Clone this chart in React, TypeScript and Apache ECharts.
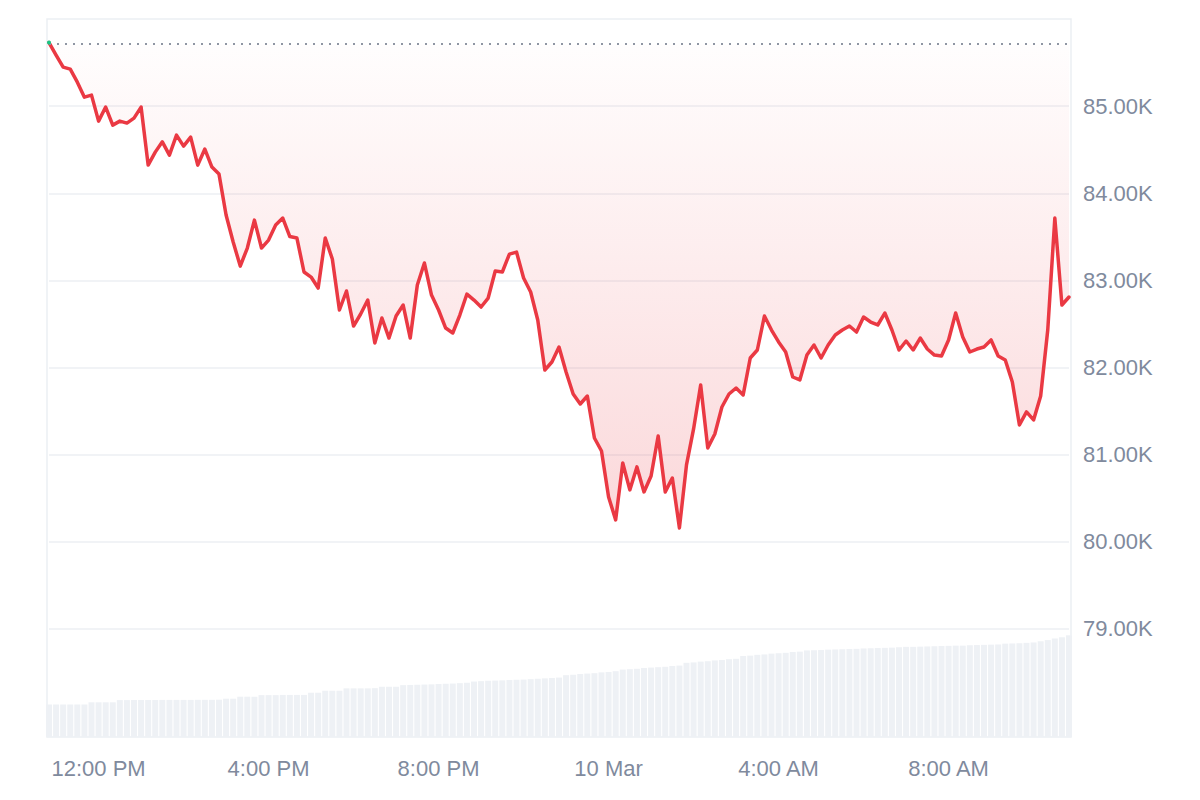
import React, { useEffect, useRef } from 'react';
import * as echarts from 'echarts';

// 24h of 10-minute samples (UTC), 10:50 Mar 9 -> 10:50 Mar 10
const START = Date.UTC(2025, 2, 9, 10, 50);
const STEP = 10 * 60 * 1000;
const OPEN_PRICE = 85711;

const prices = [
  85730, 85585, 85447, 85424, 85275, 85103, 85126, 84828, 84989, 84782,
  84828, 84805, 84862, 84989, 84323, 84472, 84590, 84438, 84667, 84541,
  84644, 84323, 84507, 84300, 84220, 83750, 83440, 83164, 83371, 83692,
  83371, 83463, 83635, 83715, 83503, 83486, 83096, 83038, 82912, 83486,
  83245, 82660, 82878, 82476, 82614, 82774, 82281, 82568, 82338, 82591,
  82717, 82338, 82947, 83199, 82832, 82660, 82453, 82396, 82602, 82843,
  82774, 82694, 82797, 83107, 83096, 83302, 83325, 83027, 82866, 82545,
  81971, 82063, 82235, 81948, 81696, 81581, 81673, 81191, 81042, 80514,
  80251, 80904, 80595, 80859, 80572, 80755, 81214, 80572, 80732, 80159,
  80882, 81295, 81799, 81077, 81237, 81547, 81696, 81765, 81685, 82109,
  82201, 82591, 82430, 82293, 82178, 81891, 81857, 82143, 82258, 82109,
  82258, 82373, 82430, 82476, 82407, 82579, 82522, 82488, 82625, 82430,
  82201, 82304, 82201, 82338, 82212, 82143, 82132, 82316, 82625, 82350,
  82178, 82212, 82235, 82316, 82132, 82086, 81834, 81340, 81490, 81398,
  81673, 82430, 83715, 82717, 82809,
];

const volumes = [
  8.15, 8.15, 8.15, 8.15, 8.15, 8.15, 8.7, 8.7, 8.7, 8.7,
  9.25, 9.25, 9.28, 9.28, 9.28, 9.28, 9.3, 9.3, 9.3, 9.3,
  9.3, 9.32, 9.32, 9.32, 9.35, 9.6, 9.6, 10.1, 10.1, 10.1,
  10.5, 10.5, 10.5, 10.55, 10.55, 10.55, 10.55, 11.1, 11.1, 11.6,
  11.6, 11.6, 12.2, 12.2, 12.2, 12.2, 12.25, 12.6, 12.6, 12.6,
  13.0, 13.05, 13.1, 13.15, 13.2, 13.3, 13.35, 13.4, 13.5, 13.6,
  13.9, 14.0, 14.1, 14.15, 14.2, 14.3, 14.35, 14.4, 14.5, 14.6,
  14.7, 14.8, 14.9, 15.5, 15.6, 15.8, 15.9, 16.0, 16.2, 16.3,
  16.5, 16.9, 17.0, 17.1, 17.3, 17.4, 17.5, 17.6, 17.8, 17.9,
  18.6, 18.7, 18.9, 19.0, 19.2, 19.3, 19.5, 19.6, 20.3, 20.4,
  20.6, 20.7, 20.9, 21.0, 21.1, 21.3, 21.4, 21.7, 21.75, 21.8,
  21.9, 21.95, 22.0, 22.05, 22.1, 22.2, 22.25, 22.3, 22.35, 22.4,
  22.5, 22.6, 22.6, 22.65, 22.7, 22.75, 22.8, 22.85, 22.9, 22.9,
  23.0, 23.05, 23.1, 23.15, 23.2, 23.4, 23.45, 23.5, 23.6, 23.7,
  24.0, 24.3, 24.7, 25.0, 25.5,
];

const xTickTimes = [
  Date.UTC(2025, 2, 9, 12),
  Date.UTC(2025, 2, 9, 16),
  Date.UTC(2025, 2, 9, 20),
  Date.UTC(2025, 2, 10, 0),
  Date.UTC(2025, 2, 10, 4),
  Date.UTC(2025, 2, 10, 8),
];
const xTickLabels = ['12:00 PM', '4:00 PM', '8:00 PM', '10 Mar', '4:00 AM', '8:00 AM'];

const Y_MIN = 78000;
const Y_MAX = 86000;
const Y_STEP = 1000;

const TEXT_COLOR = '#808a9d';
const GRID_COLOR = '#eceff3';
const FONT = '"Liberation Sans", Arial, Helvetica, sans-serif';

export default function App() {
  const ref = useRef<HTMLDivElement>(null);

  useEffect(() => {
    document.body.style.margin = '0';
    if (!ref.current) return;
    const chart = echarts.init(ref.current, undefined, { renderer: 'svg' });

    const categories = prices.map((_, i) => String(START + i * STEP));
    const tickIndex = (v: string) => xTickTimes.indexOf(Number(v));

    const splitColors: string[] = [];
    for (let v = Y_MIN; v <= Y_MAX; v += Y_STEP) {
      splitColors.push(v === Y_MIN || v === Y_MAX ? 'rgba(0,0,0,0)' : GRID_COLOR);
    }

    chart.setOption({
      animation: false,
      grid: [
        { left: 49, right: 131, top: 19, bottom: 84 },
        { left: 49, right: 131, top: 19, bottom: 63 },
        {
          left: 47,
          right: 129,
          top: 19,
          bottom: 63,
          show: true,
          borderColor: GRID_COLOR,
          borderWidth: 1.5,
          backgroundColor: 'rgba(0,0,0,0)',
        },
      ],
      xAxis: [
        { type: 'category', gridIndex: 0, data: categories, boundaryGap: false, show: false },
        {
          type: 'category',
          gridIndex: 1,
          data: categories,
          boundaryGap: false,
          axisLine: { show: false },
          axisTick: { show: false },
          splitLine: { show: false },
          axisLabel: {
            interval: (_idx: number, v: string) => tickIndex(v) >= 0,
            formatter: (v: string) => {
              const k = tickIndex(v);
              return k >= 0 ? xTickLabels[k] : '';
            },
            color: TEXT_COLOR,
            fontSize: 22,
            fontFamily: FONT,
            margin: 20,
          },
        },
        { type: 'value', gridIndex: 2, show: false, min: 0, max: 1 },
      ],
      yAxis: [
        {
          type: 'value',
          gridIndex: 0,
          position: 'right',
          min: Y_MIN,
          max: Y_MAX,
          interval: Y_STEP,
          axisLine: { show: false },
          axisTick: { show: false },
          axisLabel: {
            color: TEXT_COLOR,
            fontSize: 22,
            fontFamily: FONT,
            margin: 14,
            formatter: (v: number) =>
              v === Y_MIN || v === Y_MAX ? '' : (v / 1000).toFixed(2) + 'K',
          },
          splitLine: { lineStyle: { color: splitColors, width: 1.5 } },
        },
        { type: 'value', gridIndex: 1, min: 0, max: 180, show: false },
        { type: 'value', gridIndex: 2, min: 0, max: 1, show: false },
      ],
      series: [
        {
          type: 'line',
          xAxisIndex: 0,
          yAxisIndex: 0,
          data: prices,
          showSymbol: false,
          symbol: 'none',
          silent: true,
          z: 3,
          color: '#ea3943',
          lineStyle: { width: 3.5, join: 'round', cap: 'round', color: '#ea3943' },
          areaStyle: {
            origin: OPEN_PRICE,
            color: new echarts.graphic.LinearGradient(0, 0, 0, 1, [
              { offset: 0, color: 'rgba(234,57,67,0.01)' },
              { offset: 1, color: 'rgba(234,57,67,0.28)' },
            ]),
          },
          markLine: {
            silent: true,
            symbol: ['none', 'none'],
            label: { show: false },
            lineStyle: { color: '#8f96a3', type: [2, 6], width: 2 },
            data: [{ yAxis: OPEN_PRICE }],
          },
          markPoint: {
            silent: true,
            symbol: 'circle',
            symbolSize: 4,
            label: { show: false },
            itemStyle: { color: '#16c784' },
            data: [{ coord: [0, prices[0]] }],
          },
        },
        {
          type: 'bar',
          xAxisIndex: 1,
          yAxisIndex: 1,
          data: volumes,
          barWidth: 6,
          silent: true,
          z: 1,
          itemStyle: { color: '#eef1f5' },
        },
      ],
    });

    return () => {
      chart.dispose();
    };
  }, []);

  return <div ref={ref} style={{ width: 1200, height: 800 }} />;
}
